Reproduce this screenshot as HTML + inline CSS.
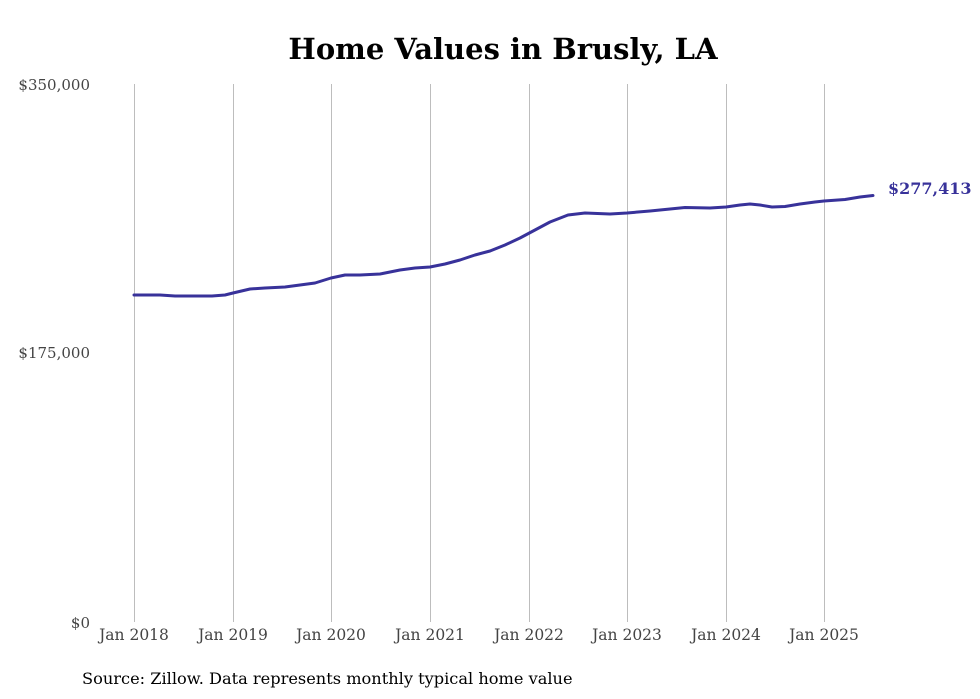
<!DOCTYPE html>
<html><head><meta charset="utf-8"><style>
body{margin:0;background:#fff;}
svg{display:block;font-family:"DejaVu Serif","Liberation Serif",serif;}
</style></head><body>
<svg width="980" height="699" viewBox="0 0 980 699" xmlns="http://www.w3.org/2000/svg">
<rect width="980" height="699" fill="#fff"/>
<text x="503" y="59" text-anchor="middle" font-size="29" font-weight="bold" fill="#000">Home Values in Brusly, LA</text>
<g stroke="#bdbdbd" stroke-width="1">
<line x1="134.5" y1="84" x2="134.5" y2="622"/>
<line x1="233.5" y1="84" x2="233.5" y2="622"/>
<line x1="331.5" y1="84" x2="331.5" y2="622"/>
<line x1="430.5" y1="84" x2="430.5" y2="622"/>
<line x1="529.5" y1="84" x2="529.5" y2="622"/>
<line x1="627.5" y1="84" x2="627.5" y2="622"/>
<line x1="726.5" y1="84" x2="726.5" y2="622"/>
<line x1="824.5" y1="84" x2="824.5" y2="622"/>
</g>
<g font-size="15" fill="#444">
<text x="90" y="90" text-anchor="end">$350,000</text>
<text x="90" y="358" text-anchor="end">$175,000</text>
<text x="90" y="628" text-anchor="end">$0</text>
</g>
<g font-size="15.5" fill="#444" text-anchor="middle">
<text x="134" y="640">Jan 2018</text>
<text x="233" y="640">Jan 2019</text>
<text x="331" y="640">Jan 2020</text>
<text x="430" y="640">Jan 2021</text>
<text x="529" y="640">Jan 2022</text>
<text x="627" y="640">Jan 2023</text>
<text x="726" y="640">Jan 2024</text>
<text x="824" y="640">Jan 2025</text>
</g>
<path fill="none" stroke="#38329a" stroke-width="3" stroke-linejoin="round" stroke-linecap="round"
d="M134,295 L160,295 L175,296 L195,296 L212,296 L225,295 L233,293 L250,289 L265,288 L285,287 L300,285 L315,283 L331,278 L345,275 L360,275 L380,274 L400,270 L415,268 L430,267 L445,264 L460,260 L475,255 L490,251 L505,245 L520,238 L535,230 L550,222 L568,215 L585,213 L610,214 L627,213 L650,211 L670,209 L685,207.5 L710,208 L726,207 L740,205 L750,204 L760,205 L772,207 L785,206.5 L800,204 L815,202 L824,201 L845,199.5 L860,197 L873,195.5"/>
<text x="888" y="194" font-size="16" font-weight="bold" fill="#38329a">$277,413</text>
<text x="82" y="684" font-size="16.2" fill="#000">Source: Zillow. Data represents monthly typical home value</text>
</svg>
</body></html>
